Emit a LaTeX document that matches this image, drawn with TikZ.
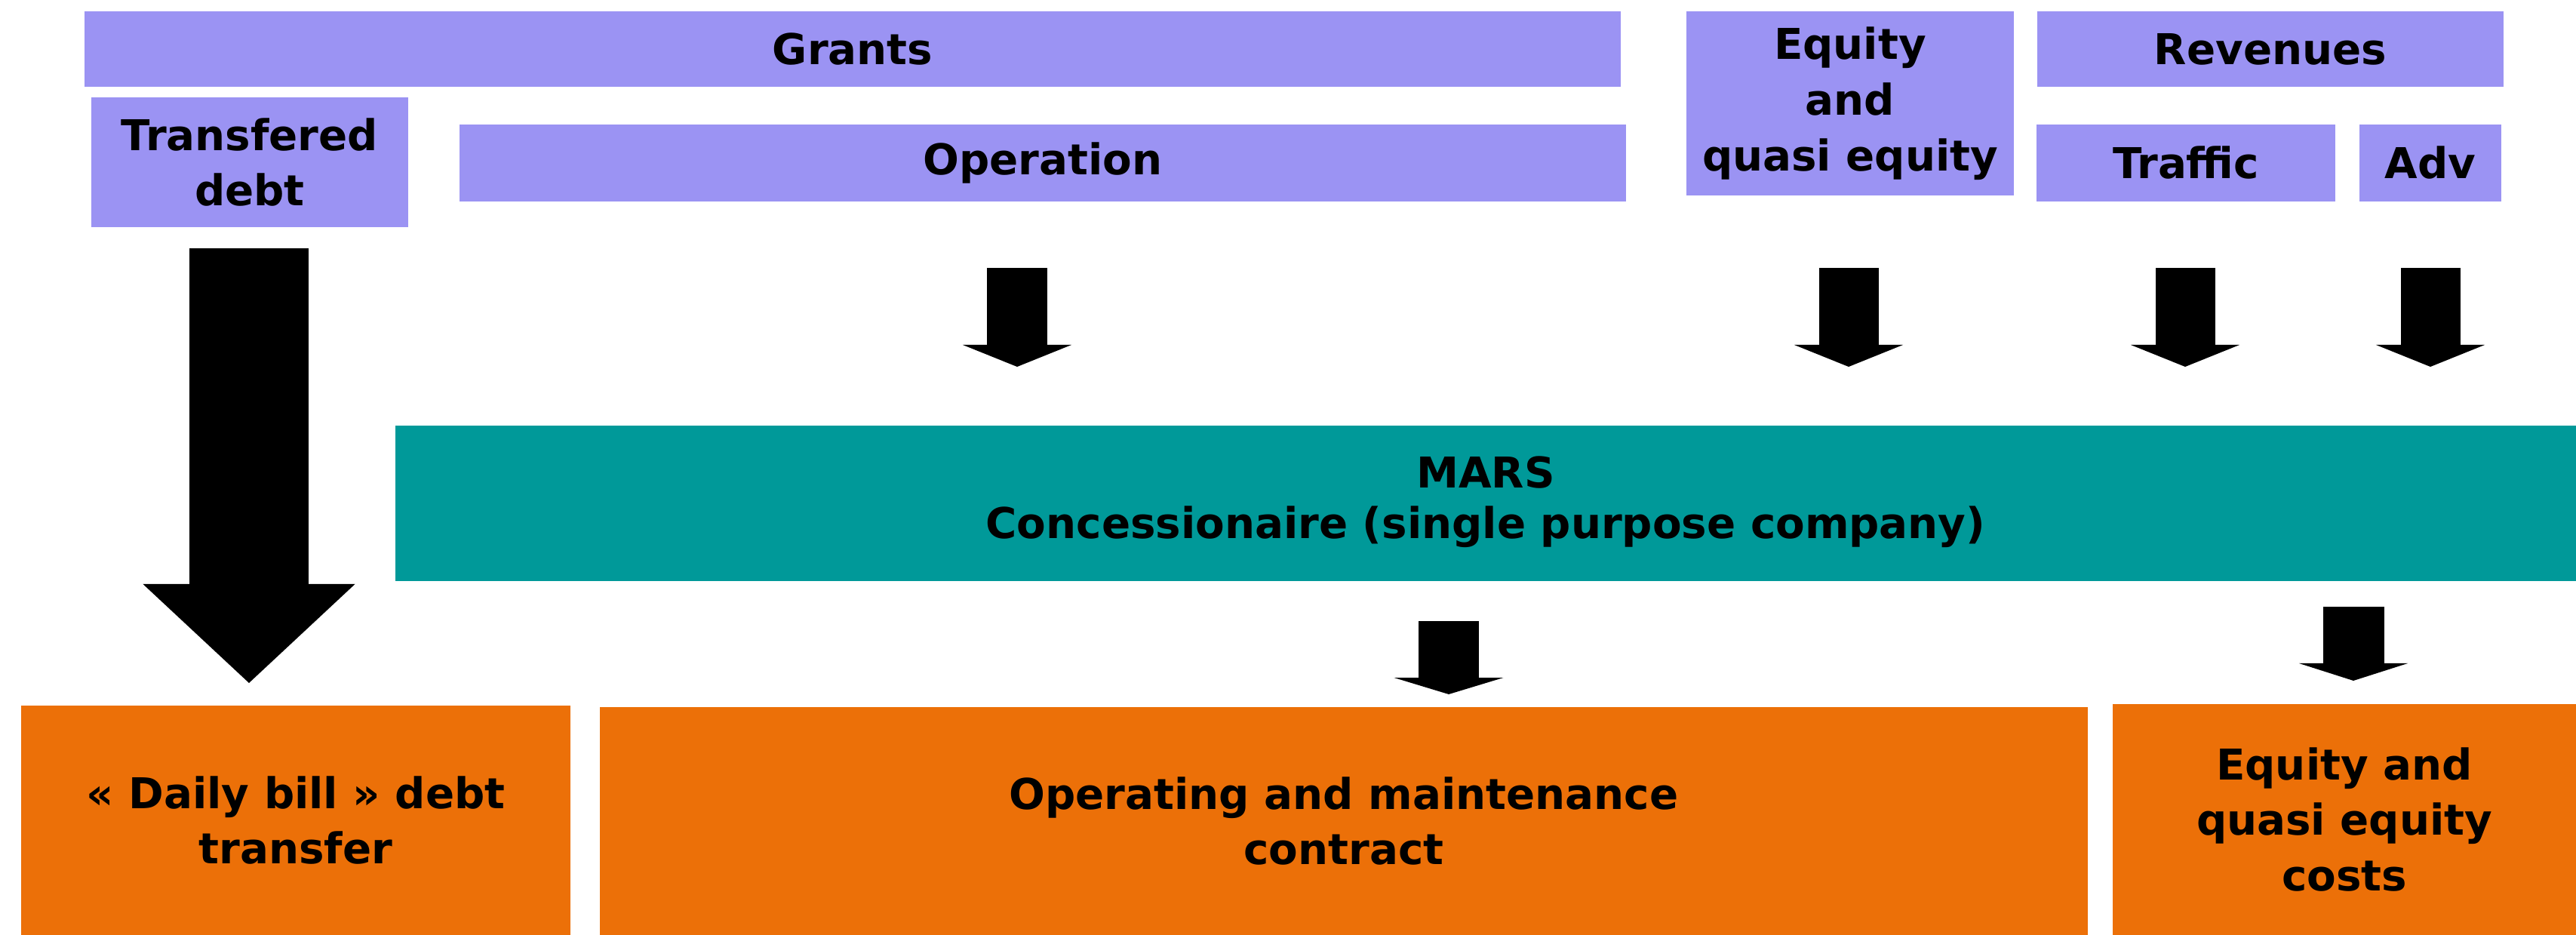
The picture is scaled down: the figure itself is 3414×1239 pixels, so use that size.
\documentclass[tikz,border=0pt]{standalone}
\usepackage{fontspec}
\setmainfont{DejaVu Sans}
\usetikzlibrary{arrows.meta}
\definecolor{srcpurple}{RGB}{155,147,243}
\definecolor{marsteal}{RGB}{0,153,153}
\definecolor{useorange}{RGB}{236,112,8}
\tikzset{
  box/.style={inner sep=0pt, outer sep=0pt, align=center, font=\bfseries\fontsize{16}{21}\selectfont},
  src/.style={box, fill=srcpurple},
  use/.style={box, fill=useorange},
  flow/.style n args={3}{line width=#1, -{Triangle[width=#2, length=#3, line width=0pt]}},
}
\begin{document}
\begin{tikzpicture}[x=0.01cm,y=-0.01cm]
  \useasboundingbox (0,0) rectangle (3414,1239);
  % TOP: sources of funds
  \node[src, minimum width=20.34cm, minimum height=1.00cm] (grants) at (1130,65) {Grants};
  \node[src, minimum width=4.20cm, minimum height=1.72cm] (transdebt) at (331,215) {Transfered\\debt};
  \node[src, minimum width=15.46cm, minimum height=1.02cm] (operation) at (1382,216) {Operation};
  \node[src, minimum width=4.34cm, minimum height=2.44cm] (equity) at (2452,137) {Equity\\and\\quasi equity};
  \node[src, minimum width=6.18cm, minimum height=1.00cm] (revenues) at (3009,65) {Revenues};
  \node[src, minimum width=3.95cm, minimum height=1.02cm] (traffic) at (2897,216) {Traffic};
  \node[src, minimum width=1.87cm, minimum height=1.02cm] (adv) at (3221,216) {Adv};
  % MIDDLE: concessionaire
  \node[box, fill=marsteal, minimum width=28.89cm, minimum height=2.06cm,
        font=\bfseries\fontsize{16}{19}\selectfont] (mars) at (1969,667)
    {\raisebox{0.14cm}{\begin{tabular}{@{}c@{}}MARS\\Concessionaire (single purpose company)\end{tabular}}};
  % BOTTOM: uses of funds
  \node[use, minimum width=7.28cm, minimum height=3.04cm] (dailybill) at (392,1087) {« Daily bill » debt\\transfer};
  \node[use, minimum width=19.71cm, minimum height=3.02cm] (omcontract) at (1781,1088) {Operating and maintenance\\contract};
  \node[use, minimum width=6.13cm, minimum height=3.06cm] (eqcosts) at (3107,1086) {Equity and\\quasi equity\\costs};
  % Block arrows between stages
  \coordinate (debtA) at (330,329);  \coordinate (debtB) at (330,905);
  \coordinate (opA) at (1348,355);   \coordinate (opB) at (1348,486);
  \coordinate (eqA) at (2450,355);   \coordinate (eqB) at (2450,486);
  \coordinate (trA) at (2896,355);   \coordinate (trB) at (2896,486);
  \coordinate (advA) at (3221,355);  \coordinate (advB) at (3221,486);
  \coordinate (omA) at (1920,823);   \coordinate (omB) at (1920,920);
  \coordinate (ecA) at (3119,804);   \coordinate (ecB) at (3119,902);
  \draw[flow={1.57cm}{2.81cm}{1.31cm}] (debtA) -- (debtB);
  \foreach \s in {op,eq,tr,adv}
    \draw[flow={0.79cm}{1.44cm}{0.29cm}] (\s A) -- (\s B);
  \draw[flow={0.80cm}{1.45cm}{0.22cm}] (omA) -- (omB);
  \draw[flow={0.81cm}{1.44cm}{0.23cm}] (ecA) -- (ecB);
\end{tikzpicture}
\end{document}
